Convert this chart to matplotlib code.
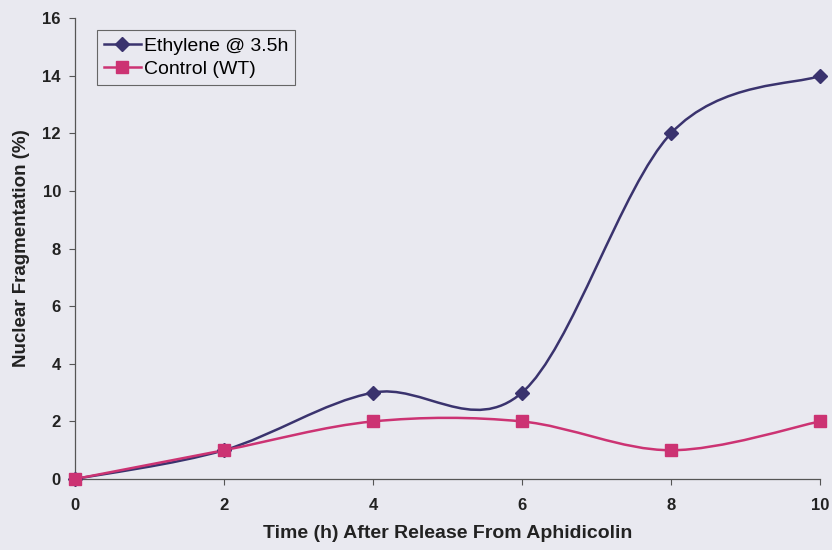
import matplotlib.pyplot as plt
import numpy as np
from matplotlib.path import Path
from matplotlib.patches import PathPatch
from matplotlib.lines import Line2D

plt.switch_backend("agg")
plt.rcParams["font.family"] = ["Liberation Sans", "DejaVu Sans"]

# data
hours = [0, 2, 4, 6, 8, 10]
ethylene = [0, 1, 3, 3, 12, 14]
control = [0, 1, 2, 2, 1, 2]
x_ticks = [0, 2, 4, 6, 8, 10]
y_ticks = [0, 2, 4, 6, 8, 10, 12, 14, 16]

BG = "#e9e9f0"
ETH_COLOR = "#3a336e"
CTL_COLOR = "#cc3373"


def smooth_path(x, y):
    # Excel-like smoothed line: cubic Bezier segments with Catmull-Rom tangents
    pts = np.column_stack([x, y]).astype(float)
    n = len(pts)
    verts = [pts[0]]
    codes = [Path.MOVETO]
    for i in range(n - 1):
        p0 = pts[max(i - 1, 0)]
        p1 = pts[i]
        p2 = pts[i + 1]
        p3 = pts[min(i + 2, n - 1)]
        c1 = p1 + (p2 - p0) / 6.0
        c2 = p2 - (p3 - p1) / 6.0
        verts += [c1, c2, p2]
        codes += [Path.CURVE4] * 3
    return Path(verts, codes)


fig = plt.figure(figsize=(8.32, 5.5), dpi=100)
fig.patch.set_facecolor(BG)
ax = fig.add_axes([0.090, 0.129, 0.8956, 0.838])
ax.set_facecolor(BG)

for ys, color, marker, ms in [
    (ethylene, ETH_COLOR, "D", 7),
    (control, CTL_COLOR, "s", 8.5),
]:
    ax.add_patch(
        PathPatch(smooth_path(hours, ys), facecolor="none", edgecolor=color, lw=1.8,
                  clip_on=False, zorder=3)
    )
    ax.plot(hours, ys, linestyle="none", marker=marker, ms=ms, color=color,
            clip_on=False, zorder=4)

ax.set_xlim(0, 10)
ax.set_ylim(0, 16)
ax.set_xticks(x_ticks)
ax.set_yticks(y_ticks)
ax.tick_params(axis="both", direction="out", length=4, width=0.8, color="#555555",
               labelsize=12)
ax.tick_params(axis="x", pad=10)
ax.tick_params(axis="y", pad=6)
for lab in ax.get_xticklabels() + ax.get_yticklabels():
    lab.set_fontweight("bold")
    lab.set_color("#222222")

for side in ["top", "right"]:
    ax.spines[side].set_visible(False)
for side in ["left", "bottom"]:
    ax.spines[side].set_color("#555555")
    ax.spines[side].set_linewidth(0.9)

ax.set_xlabel("Time (h) After Release From Aphidicolin", fontsize=14, fontweight="bold",
              color="#222222", labelpad=8)
ax.set_ylabel("Nuclear Fragmentation (%)", fontsize=13.5, fontweight="bold",
              color="#222222", labelpad=9)

handles = [
    Line2D([], [], color=ETH_COLOR, lw=1.8, marker="D", ms=7),
    Line2D([], [], color=CTL_COLOR, lw=1.8, marker="s", ms=8.5),
]
leg = ax.legend(handles, ["Ethylene @ 3.5h", "Control (WT)"], loc="upper left",
                bbox_to_anchor=(0.0295, 0.974), fontsize=14, frameon=True,
                fancybox=False, edgecolor="#666666", facecolor=BG, framealpha=1,
                handlelength=1.9, handletextpad=0.15, borderpad=0.35, labelspacing=0.3,
                borderaxespad=0)
leg.get_frame().set_linewidth(0.8)

fig.savefig("out.png", dpi=100, facecolor=BG)
